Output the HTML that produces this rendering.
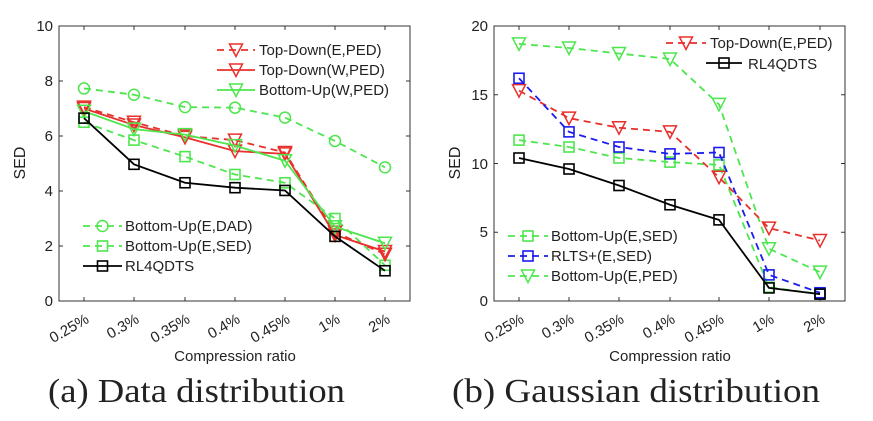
<!DOCTYPE html>
<html><head><meta charset="utf-8"><style>
body{margin:0;background:#fff;width:873px;height:416px;overflow:hidden}
svg{font-family:"Liberation Sans",sans-serif}
.cap{font-family:"Liberation Serif",serif;font-size:34px}
</style></head><body>
<svg id="s" width="873" height="416" xmlns="http://www.w3.org/2000/svg">
<g font-size="15" fill="#222">
<rect x="59" y="26" width="351" height="275" fill="none" stroke="#333" stroke-width="1"/>
<text x="53" y="306" text-anchor="end">0</text>
<text x="53" y="251" text-anchor="end">2</text>
<text x="53" y="196" text-anchor="end">4</text>
<text x="53" y="141" text-anchor="end">6</text>
<text x="53" y="86" text-anchor="end">8</text>
<text x="53" y="31" text-anchor="end">10</text>
<text transform="translate(25,163) rotate(-90)" text-anchor="middle" font-size="16">SED</text>
<text transform="translate(90,322) rotate(-30)" text-anchor="end">0.25%</text>
<text transform="translate(140,322) rotate(-30)" text-anchor="end">0.3%</text>
<text transform="translate(191,322) rotate(-30)" text-anchor="end">0.35%</text>
<text transform="translate(241,322) rotate(-30)" text-anchor="end">0.4%</text>
<text transform="translate(291,322) rotate(-30)" text-anchor="end">0.45%</text>
<text transform="translate(341,322) rotate(-30)" text-anchor="end">1%</text>
<text transform="translate(391,322) rotate(-30)" text-anchor="end">2%</text>
<text x="235" y="361" text-anchor="middle">Compression ratio</text>
<text x="48" y="402" class="cap" textLength="297" lengthAdjust="spacingAndGlyphs">(a) Data distribution</text>
<rect x="494" y="26" width="351" height="275" fill="none" stroke="#333" stroke-width="1"/>
<text x="488" y="306" text-anchor="end">0</text>
<text x="488" y="237" text-anchor="end">5</text>
<text x="488" y="169" text-anchor="end">10</text>
<text x="488" y="100" text-anchor="end">15</text>
<text x="488" y="31" text-anchor="end">20</text>
<text transform="translate(460,163) rotate(-90)" text-anchor="middle" font-size="16">SED</text>
<text transform="translate(525,322) rotate(-30)" text-anchor="end">0.25%</text>
<text transform="translate(575,322) rotate(-30)" text-anchor="end">0.3%</text>
<text transform="translate(625,322) rotate(-30)" text-anchor="end">0.35%</text>
<text transform="translate(676,322) rotate(-30)" text-anchor="end">0.4%</text>
<text transform="translate(725,322) rotate(-30)" text-anchor="end">0.45%</text>
<text transform="translate(775,322) rotate(-30)" text-anchor="end">1%</text>
<text transform="translate(826,322) rotate(-30)" text-anchor="end">2%</text>
<text x="670" y="361" text-anchor="middle">Compression ratio</text>
<text x="452" y="402" class="cap" textLength="368" lengthAdjust="spacingAndGlyphs">(b) Gaussian distribution</text>
<text x="259" y="55">Top-Down(E,PED)</text>
<text x="259" y="75">Top-Down(W,PED)</text>
<text x="259" y="95">Bottom-Up(W,PED)</text>
<text x="125" y="231">Bottom-Up(E,DAD)</text>
<text x="125" y="251">Bottom-Up(E,SED)</text>
<text x="125" y="271">RL4QDTS</text>
<text x="710" y="48">Top-Down(E,PED)</text>
<text x="748" y="69">RL4QDTS</text>
<text x="551" y="241">Bottom-Up(E,SED)</text>
<text x="551" y="261">RLTS+(E,SED)</text>
<text x="551" y="281">Bottom-Up(E,PED)</text>
</g>
<g id="d"></g>
</svg>
<script>
var G='#4ee64e',R='#e8302c',B='#1c1cf0',K='#000';
var d=document.getElementById('d'),h='';
function mk(t,x,y,c){
 if(t=='v')return '<path d="M'+(x-6.5)+','+(y-6)+'L'+(x+6.5)+','+(y-6)+'L'+x+','+(y+6.5)+'Z" fill="none" stroke="'+c+'" stroke-width="1.5"/>';
 if(t=='s')return '<rect x="'+(x-5)+'" y="'+(y-5)+'" width="10" height="10" fill="none" stroke="'+c+'" stroke-width="1.6"/>';
 if(t=='o')return '<circle cx="'+x+'" cy="'+y+'" r="5.5" fill="none" stroke="'+c+'" stroke-width="1.5"/>';
}
function ser(xs,y0,sc,v,c,dash,t){
 var p=v.map(function(a,i){return [xs[i],y0-a*sc]});
 h+='<polyline points="'+p.join(' ')+'" fill="none" stroke="'+c+'" stroke-width="1.8"'+(dash?' stroke-dasharray="7,5"':'')+'/>';
 p.forEach(function(q){h+=mk(t,q[0],q[1],c)});
}
function leg(x1,x2,y,c,dash,t){
 h+='<line x1="'+x1+'" y1="'+y+'" x2="'+x2+'" y2="'+y+'" stroke="'+c+'" stroke-width="1.8"'+(dash?' stroke-dasharray="7,5"':'')+'/>'+mk(t,(x1+x2)/2,y,c);
}
var XL=[84,134,185,235,285,335,385],XR=[519,569,619,670,719,769,820];
[[XL,59,410,27.5,[0,2,4,6,8,10]],[XR,494,845,13.75,[0,5,10,15,20]]].forEach(function(a){
 a[0].forEach(function(x){h+='<line x1="'+x+'" y1="301" x2="'+x+'" y2="297" stroke="#333"/><line x1="'+x+'" y1="26" x2="'+x+'" y2="30" stroke="#333"/>'});
 a[4].forEach(function(v){var y=301-v*a[3];h+='<line x1="'+a[1]+'" y1="'+y+'" x2="'+(a[1]+4)+'" y2="'+y+'" stroke="#333"/><line x1="'+a[2]+'" y1="'+y+'" x2="'+(a[2]-4)+'" y2="'+y+'" stroke="#333"/>'});
});
ser(XL,301,27.5,[7.73,7.5,7.05,7.03,6.67,5.82,4.86],G,1,'o');
ser(XL,301,27.5,[6.5,5.85,5.25,4.6,4.3,3.0,1.3],G,1,'s');
ser(XL,301,27.5,[7.05,6.5,6.0,5.85,5.4,2.5,1.7],R,1,'v');
ser(XL,301,27.5,[7.0,6.4,5.95,5.45,5.35,2.4,1.8],R,0,'v');
ser(XL,301,27.5,[6.9,6.25,6.05,5.65,5.1,2.7,2.1],G,0,'v');
ser(XL,301,27.5,[6.65,4.97,4.3,4.12,4.02,2.35,1.1],K,0,'s');
ser(XR,301,13.75,[18.7,18.4,18.0,17.6,14.3,3.8,2.1],G,1,'v');
ser(XR,301,13.75,[11.7,11.2,10.4,10.1,9.9,1.0,0.5],G,1,'s');
ser(XR,301,13.75,[15.3,13.3,12.6,12.3,9.0,5.3,4.4],R,1,'v');
ser(XR,301,13.75,[16.2,12.3,11.2,10.7,10.8,1.9,0.6],B,1,'s');
ser(XR,301,13.75,[10.4,9.6,8.4,7.0,5.9,0.95,0.5],K,0,'s');
leg(217,255,50,R,1,'v');leg(217,255,70,R,0,'v');leg(217,255,90,G,0,'v');
leg(83,122,226,G,1,'o');leg(83,122,246,G,1,'s');leg(83,122,266,K,0,'s');
leg(666,706,43,R,1,'v');leg(706,742,63,K,0,'s');
leg(508,548,236,G,1,'s');leg(508,548,256,B,1,'s');leg(508,548,276,G,1,'v');
d.innerHTML=h;
</script>
</body></html>
